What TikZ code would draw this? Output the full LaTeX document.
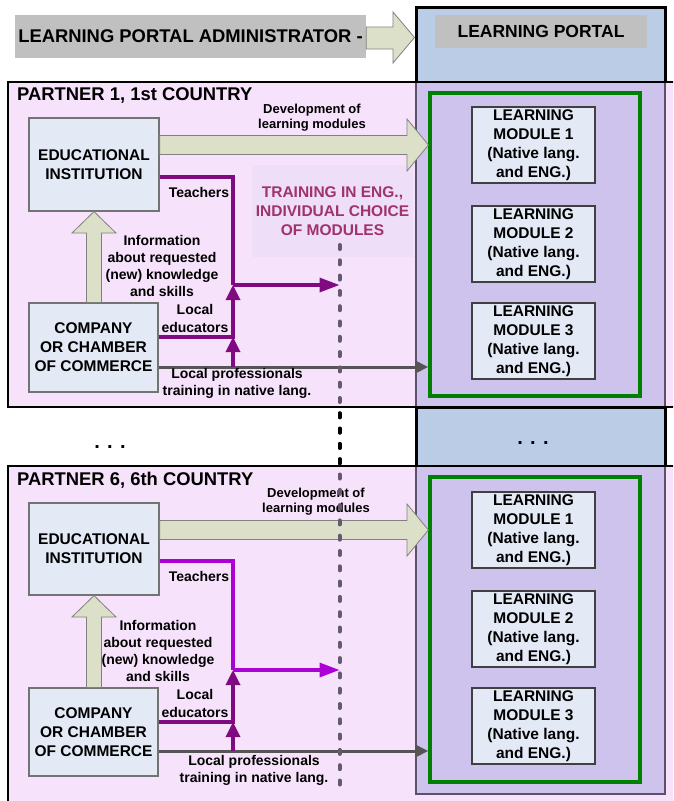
\documentclass[tikz,border=0pt]{standalone}
\usepackage{fontspec}
\setmainfont{Liberation Sans}
\usetikzlibrary{positioning,arrows.meta,calc}
\definecolor{portalblue}{RGB}{186,204,230}
\definecolor{admgrey}{RGB}{192,192,192}
\definecolor{partnerpink}{RGB}{246,226,250}
\definecolor{columnlilac}{RGB}{205,195,237}
\definecolor{columnedge}{RGB}{95,80,105}
\definecolor{modfill}{RGB}{227,234,246}
\definecolor{fatfill}{RGB}{221,224,200}
\definecolor{trainfill}{RGB}{238,222,248}
\definecolor{traintext}{RGB}{160,50,110}
\definecolor{darkpurple}{RGB}{128,10,128}
\definecolor{brightpurple}{RGB}{172,0,212}
\definecolor{arrowgrey}{RGB}{85,85,85}
\definecolor{dotgrey}{RGB}{100,90,112}
\definecolor{modgreen}{RGB}{0,128,0}

\begin{document}
\begin{tikzpicture}[x=1pt,y=-1pt,
  titletxt/.style={inner sep=0pt,font=\fontsize{18.4}{22}\selectfont\bfseries},
  blk/.style={draw=black!55,fill=modfill,line width=1.2pt,inner sep=0pt,align=center,font=\fontsize{15.5}{19}\selectfont\bfseries},
  module/.style={blk,draw=black!75,minimum width=123pt,minimum height=76pt},
  grnbox/.style={draw=modgreen,line width=3.2pt,minimum width=210pt,inner sep=0pt},
  lbl/.style={inner sep=0pt,align=center,font=\fontsize{14}{17.3}\selectfont\bfseries},
  fat/.style={draw=black!50,fill=fatfill,line width=0.8pt},
  pline/.style={line width=3.3pt,draw=#1},
  uptip/.style={-{Triangle[length=15pt,width=14pt]}},
  righttip/.style={-{Triangle[length=20pt,width=14pt]}},
  gline/.style={line width=3pt,draw=arrowgrey,-{Triangle[length=13pt,width=12pt]}},
  dots/.style={line width=4pt,line cap=round,dash pattern=on 4pt off 11.3pt},
  gapdots/.style={inner sep=0pt,anchor=base,font=\fontsize{20}{20}\selectfont\bfseries},
]
\useasboundingbox (0,0) rectangle (673,801);
\clip (0,0) rectangle (673,801);

% administrator and portal
\node[titletxt,fill=admgrey,minimum width=351pt,minimum height=43pt] (adm) at (190.5,36.5)
  {LEARNING PORTAL ADMINISTRATOR -};
\node[draw=black,line width=3pt,fill=portalblue,minimum width=249pt,minimum height=75pt] (portal) at (540.5,44.5) {};
\node[titletxt,font=\fontsize{17.5}{21}\selectfont\bfseries,fill=admgrey,minimum width=212pt,minimum height=33pt] (plab) at (541,31.5) {LEARNING PORTAL};
\draw[fat] (adm.east |- 0,27) -- (393,27) -- (393,12) -- (portal.west |- 0,37.5)
  -- (393,63) -- (393,49) -- (adm.east |- 0,49) -- cycle;

% gap between the partners
\draw[line width=3pt,fill=portalblue] (416,407) rectangle (665,466);
\node[gapdots] (gapl) at (110,448) {. . .};
\node[gapdots] (gapr) at (533,444) {. . .};

% partner rows: backgrounds
\fill[partnerpink] (8,82) rectangle (690,407);
\draw[line width=2.5pt,draw=columnedge,fill=columnlilac] (416,82) rectangle (665,407);
\draw[line width=2.5pt] (8,82) rectangle (690,407);
\fill[partnerpink] (8,466) rectangle (690,802);
\draw[line width=2.5pt,draw=columnedge,fill=columnlilac] (416,466) rectangle (665,794);
\draw[line width=2.5pt] (8,466) rectangle (690,802);

%%% partner 1
\node[titletxt,anchor=west] (title1) at (17,95) {PARTNER 1, 1st COUNTRY};
\node[blk,minimum width=130pt,minimum height=93pt] (edu1) at (94,164.5) {EDUCATIONAL\\INSTITUTION};
\node[blk,minimum width=129pt,minimum height=89pt] (comp1) at (93.5,347.5) {COMPANY\\OR CHAMBER\\OF COMMERCE};
\node[grnbox,minimum height=303pt] (green1) at (535,244.5) {};
\foreach \i/\y in {1/145,2/244,3/341}
  \node[module] (mod1\i) at (533.5,\y) {LEARNING\\MODULE \i\\(Native lang.\\and ENG.)};
\node[fill=trainfill,minimum width=161pt,minimum height=92pt,inner sep=0pt,align=center,
  text=traintext,font=\fontsize{15.5}{19}\selectfont\bfseries] (train) at (332.5,211)
  {TRAINING IN ENG.,\\INDIVIDUAL CHOICE\\OF MODULES};
% flows
\draw[fat] (edu1.east |- 0,135.5) -- (407,135.5) -- (407,119) -- (green1.west |- 0,145)
  -- (407,171) -- (407,154.5) -- (edu1.east |- 0,154.5) -- cycle;
\draw[fat] (comp1.north -| 86.5,0) -- (86.5,233) -- (72,233) -- (edu1.south)
  -- (116,233) -- (101.5,233) -- (comp1.north -| 101.5,0) -- cycle;
\coordinate (j1) at (233,285);
\coordinate (k1) at (233,337);
\coordinate (g1) at (233,367);
\draw[gline] (comp1.east |- g1) -- (green1.west |- g1);
\draw[pline=darkpurple] (edu1.east |- 0,177) -| (j1);
\draw[pline=darkpurple,uptip] (comp1.east |- k1) -- (k1) -- (j1);
\draw[pline=darkpurple,uptip] (g1) -- (k1);
\draw[pline=darkpurple,righttip] (j1) -- (j1 -| 339.5,0);
% labels
\node[lbl,font=\fontsize{13}{15}\selectfont\bfseries] (dev1) at (312,117.5) {Development of\\learning modules};
\node[lbl] (teach1) at (199,192) {Teachers};
\node[lbl] (info1) at (162,266) {Information\\about requested\\(new) knowledge\\and skills};
\node[lbl] (loced1) at (195,318.5) {Local\\educators};
\node[lbl] (locpro1) at (237,383.5) {Local professionals\\training in native lang.};

%%% partner 6
\node[titletxt,anchor=west] (title6) at (17,480) {PARTNER 6, 6th COUNTRY};
\node[blk,minimum width=130pt,minimum height=92pt] (edu6) at (94,549) {EDUCATIONAL\\INSTITUTION};
\node[blk,minimum width=129pt,minimum height=88pt] (comp6) at (93.5,732) {COMPANY\\OR CHAMBER\\OF COMMERCE};
\node[grnbox,minimum height=305pt] (green6) at (535,629.5) {};
\foreach \i/\y in {1/530,2/629,3/726}
  \node[module] (mod6\i) at (533.5,\y) {LEARNING\\MODULE \i\\(Native lang.\\and ENG.)};
% flows
\draw[fat] (edu6.east |- 0,520.5) -- (407,520.5) -- (407,504) -- (green6.west |- 0,530)
  -- (407,556) -- (407,539.5) -- (edu6.east |- 0,539.5) -- cycle;
\draw[fat] (comp6.north -| 86.5,0) -- (86.5,617) -- (72,617) -- (edu6.south)
  -- (116,617) -- (101.5,617) -- (comp6.north -| 101.5,0) -- cycle;
\coordinate (j6) at (233,670);
\coordinate (k6) at (233,722);
\coordinate (g6) at (233,751);
\draw[gline] (comp6.east |- g6) -- (green6.west |- g6);
\draw[pline=brightpurple] (edu6.east |- 0,561) -| (j6);
\draw[pline=darkpurple,uptip] (comp6.east |- k6) -- (k6) -- (j6);
\draw[pline=darkpurple,uptip] (g6) -- (k6);
\draw[pline=brightpurple,righttip] (j6) -- (j6 -| 339.5,0);
% labels
\node[lbl,font=\fontsize{13}{15}\selectfont\bfseries] (dev6) at (316,502) {Development of\\learning modules};
\node[lbl] (teach6) at (199,576) {Teachers};
\node[lbl] (info6) at (158,651) {Information\\about requested\\(new) knowledge\\and skills};
\node[lbl] (loced6) at (195,703.5) {Local\\educators};
\node[lbl] (locpro6) at (254,770.5) {Local professionals\\training in native lang.};

% dotted divide
\coordinate (dtop) at (339.5,245);
\coordinate (dbot) at (339.5,790);
\draw[dots,draw=dotgrey] (dtop) -- (dbot);
\begin{scope}
  \clip (330,408.5) rectangle (350,464.5);
  \draw[dots,draw=black] (dtop) -- (dbot);
\end{scope}
\end{tikzpicture}
\end{document}
